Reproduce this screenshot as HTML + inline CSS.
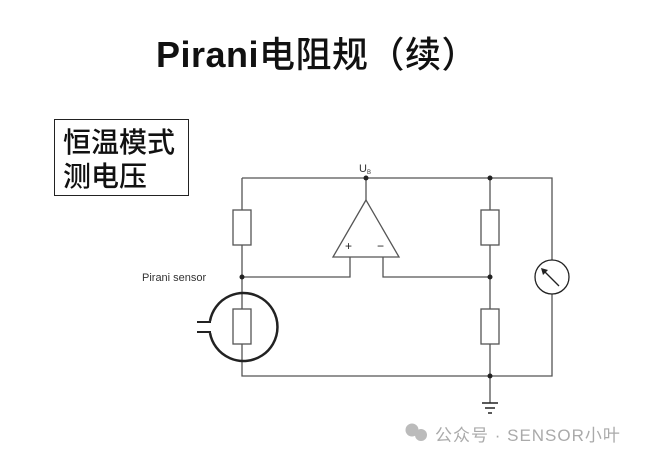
<!DOCTYPE html>
<html><head><meta charset="utf-8"><style>
body{margin:0;width:645px;height:459px;background:#fff;overflow:hidden;position:relative;font-family:"Liberation Sans","Noto Sans CJK SC",sans-serif}
.t{position:absolute;left:156px;top:33px;white-space:nowrap;font-size:36px;line-height:44px;color:#111;letter-spacing:0.5px}
.t b{font-weight:bold}
.t span{font-weight:500}
.box{position:absolute;left:54px;top:119px;width:135px;height:77px;border:1.5px solid #222;font-size:28px;font-weight:500;line-height:34px;padding:6px 0 0 8px;box-sizing:border-box;color:#111;white-space:nowrap}
.wm{position:absolute;left:435px;top:421px;font-size:17px;color:#aaa;letter-spacing:1px;white-space:nowrap}
</style></head><body>
<div class="t"><b>Pirani</b><span>电阻规（续）</span></div>
<div class="box">恒温模式<br>测电压</div>
<svg width="645" height="459" style="position:absolute;left:0;top:0">
<g stroke="#555" stroke-width="1.3" fill="none">
<polyline points="242,178 552,178 552,376 242,376 242,178"/>
<line x1="490" y1="178" x2="490" y2="376"/>
<line x1="366" y1="178" x2="366" y2="200"/>
<polyline points="242,277 350,277 350,257"/>
<polyline points="383,257 383,277 490,277"/>
<line x1="490" y1="376" x2="490" y2="403"/>
<polygon points="366,200 333,257 399,257" fill="#fff"/>
<rect x="233" y="210" width="18" height="35" fill="#fff"/>
<rect x="481" y="210" width="18" height="35" fill="#fff"/>
<rect x="481" y="309" width="18" height="35" fill="#fff"/>
<rect x="233" y="309" width="18" height="35" fill="#fff"/>
<circle cx="552" cy="277" r="17" fill="#fff" stroke="#222"/>
<line x1="559" y1="286" x2="543" y2="270" stroke="#222"/>
</g>
<polygon points="541,268 548,270 543,275" fill="#222"/>
<g stroke="#222" stroke-width="1.5">
<line x1="482" y1="403" x2="498" y2="403"/>
<line x1="485" y1="408" x2="495" y2="408"/>
<line x1="488" y1="413" x2="492" y2="413"/>
</g>
<path d="M210,321 A34,34 0 1 1 210,333" stroke="#222" stroke-width="2.5" fill="none"/>
<g stroke="#222" stroke-width="2"><line x1="197" y1="322" x2="211" y2="322"/><line x1="197" y1="332" x2="211" y2="332"/></g>
<g fill="#222"><circle cx="366" cy="178" r="2.5"/><circle cx="490" cy="178" r="2.5"/><circle cx="242" cy="277" r="2.5"/><circle cx="490" cy="277" r="2.5"/><circle cx="490" cy="376" r="2.5"/></g>
<text x="345" y="250" font-size="12" fill="#222" font-family="Liberation Sans">+</text>
<text x="377" y="250" font-size="12" fill="#222" font-family="Liberation Sans">−</text>
<text x="359" y="172" font-size="11" fill="#333" font-family="Liberation Sans">U</text>
<text x="367" y="174" font-size="6" fill="#333" font-family="Liberation Sans">B</text>
<text x="142" y="281" font-size="11" fill="#333" font-family="Liberation Sans">Pirani sensor</text>
<g fill="#bbb"><circle cx="412" cy="430" r="6.5"/><circle cx="421" cy="435" r="6"/></g>
</svg>
<div class="wm">公众号 · SENSOR小叶</div>
</body></html>
